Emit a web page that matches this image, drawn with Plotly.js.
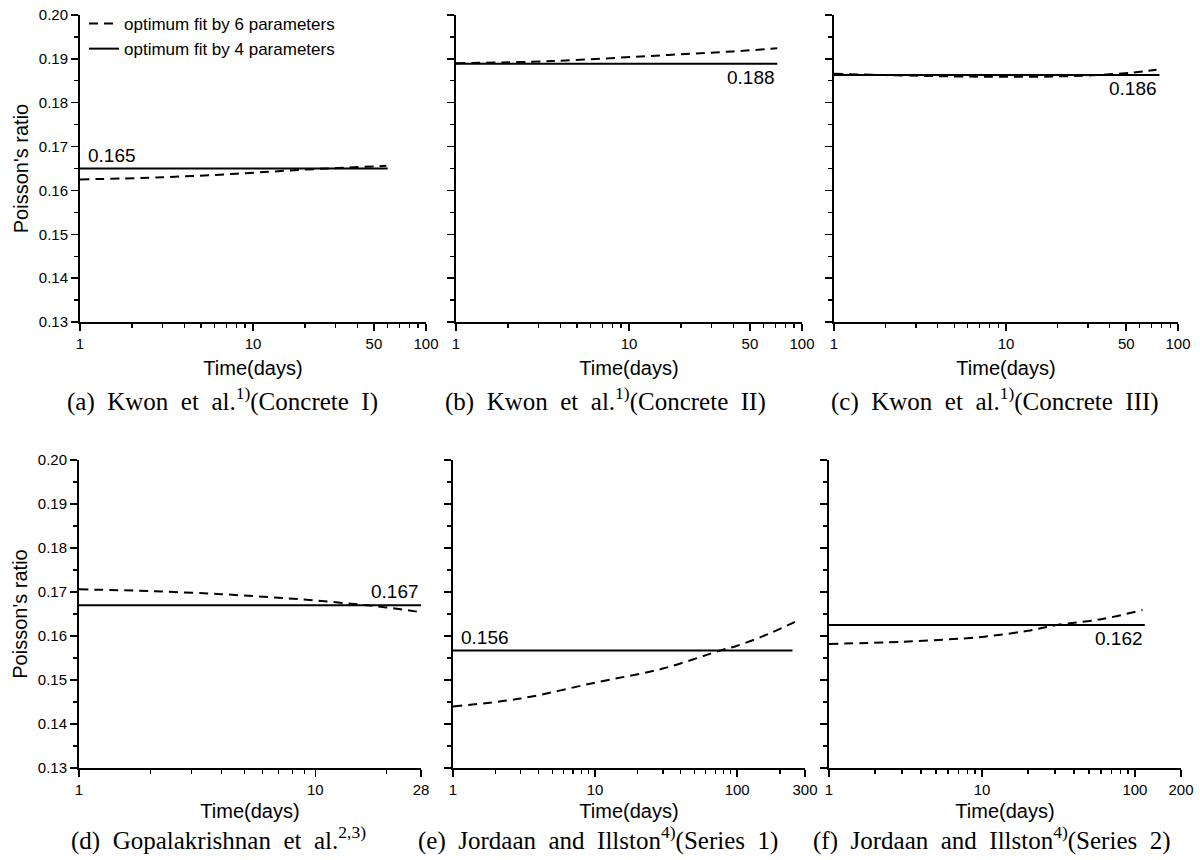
<!DOCTYPE html>
<html><head><meta charset="utf-8">
<script src="https://cdn.plot.ly/plotly-3.0.1.min.js"></script>
<style>html,body{margin:0;padding:0;background:#fff}#chart{width:1200px;height:860px}</style>
</head><body><div id="chart"></div>
<script>
// ---- data ----
const panelIds = ['a','b','c','d','e','f'];
const xMax = [100, 100, 100, 28, 300, 200];
const xTickVals = [[1,10,50,100],[1,10,50,100],[1,10,50,100],[1,10,28],[1,10,100,300],[1,10,100,200]];
const fit4Value = [0.1650, 0.1889, 0.1863, 0.1670, 0.1567, 0.1625];
const fit4Start = [1, 1, 1, 1, 1, 1];
const fit4End = [60, 72, 78, 28, 245, 116];
const fit6X_a = [1, 3, 8, 19, 35, 59];
const fit6Y_a = [0.1625, 0.1630, 0.1638, 0.1647, 0.1652, 0.1656];
const fit6X_b = [1, 3.6, 17, 40, 72];
const fit6Y_b = [0.1890, 0.1895, 0.1909, 0.1917, 0.1924];
const fit6X_c = [1, 2, 5, 10, 20, 34, 55, 75];
const fit6Y_c = [0.1866, 0.1863, 0.1860, 0.1859, 0.1860, 0.1863, 0.1869, 0.1875];
const fit6X_d = [1, 2, 4, 7, 10, 15, 20, 28];
const fit6Y_d = [0.1706, 0.1702, 0.1695, 0.1687, 0.1681, 0.1672, 0.1665, 0.1654];
const fit6X_e = [1, 3, 10, 30, 76, 100, 170, 270];
const fit6Y_e = [0.1440, 0.1458, 0.1494, 0.1526, 0.1567, 0.1578, 0.1606, 0.1636];
const fit6X_f = [1, 3, 10, 20, 31, 60, 112];
const fit6Y_f = [0.1582, 0.1587, 0.1598, 0.1612, 0.1625, 0.1638, 0.1659];
const fit6X = [fit6X_a, fit6X_b, fit6X_c, fit6X_d, fit6X_e, fit6X_f];
const fit6Y = [fit6Y_a, fit6Y_b, fit6Y_c, fit6Y_d, fit6Y_e, fit6Y_f];
const valueLabels = ['0.165', '0.188', '0.186', '0.167', '0.156', '0.162'];
const labelSide = ['leftAbove', 'rightBelow', 'rightBelow', 'rightAbove', 'leftAbove', 'rightBelow'];
const yTickVals = [0.13, 0.14, 0.15, 0.16, 0.17, 0.18, 0.19, 0.20];
const legendNames = ['optimum fit by 6 parameters', 'optimum fit by 4 parameters'];
const captions = [
  '(a)\u00a0 Kwon\u00a0 et\u00a0 al.<sup>1)</sup>(Concrete\u00a0 I)',
  '(b)\u00a0 Kwon\u00a0 et\u00a0 al.<sup>1)</sup>(Concrete\u00a0 II)',
  '(c)\u00a0 Kwon\u00a0 et\u00a0 al.<sup>1)</sup>(Concrete\u00a0 III)',
  '(d)\u00a0 Gopalakrishnan\u00a0 et\u00a0 al.<sup>2,3)</sup>',
  '(e)\u00a0 Jordaan\u00a0 and\u00a0 Illston<sup>4)</sup>(Series\u00a0 1)',
  '(f)\u00a0 Jordaan\u00a0 and\u00a0 Illston<sup>4)</sup>(Series\u00a0 2)'
];
const xTitle = 'Time(days)';
const yTitle = "Poisson's ratio";

// ---- layout geometry (pixels) ----
const W = 1200, H = 860;
const xPix = [[80,426],[456,802],[834,1178],[79,421],[453,805],[829,1181]];
const yPix = [[15,322],[15,322],[15,322],[460,768],[460,768],[460,768]];
const captionCenter = [[222,400],[605,400],[995,400],[218,838],[598,838],[992,838]];

function minorLogTicks(max, majors) {
  const out = [];
  for (let d = 1; d <= max; d *= 10) {
    for (let m = 2; m <= 9; m++) {
      const v = m * d;
      if (v < max && majors.indexOf(v) < 0) out.push(v);
    }
  }
  return out;
}

const traces = [];
const layout = {
  width: W, height: H,
  margin: {l: 0, r: 0, t: 0, b: 0},
  paper_bgcolor: '#fff', plot_bgcolor: '#fff',
  font: {family: 'Liberation Sans, Arial, sans-serif', color: '#000', size: 15},
  showlegend: true,
  legend: {x: 84 / W, y: 1 - 6 / H, xanchor: 'left', yanchor: 'top',
           bgcolor: 'rgba(0,0,0,0)', font: {size: 17}, tracegroupgap: 0},
  annotations: []
};

panelIds.forEach((p, i) => {
  const xa = i === 0 ? 'x' : 'x' + (i + 1);
  const ya = i === 0 ? 'y' : 'y' + (i + 1);
  const xKey = i === 0 ? 'xaxis' : 'xaxis' + (i + 1);
  const yKey = i === 0 ? 'yaxis' : 'yaxis' + (i + 1);
  traces.push({
    x: fit6X[i], y: fit6Y[i], xaxis: xa, yaxis: ya, mode: 'lines', type: 'scatter',
    line: {color: '#000', width: 2, dash: '9px,6px', shape: 'spline'},
    name: legendNames[0], showlegend: i === 0, hoverinfo: 'skip'
  });
  traces.push({
    x: [fit4Start[i], fit4End[i]], y: [fit4Value[i], fit4Value[i]], xaxis: xa, yaxis: ya,
    mode: 'lines', type: 'scatter', line: {color: '#000', width: 2},
    name: legendNames[1], showlegend: i === 0, hoverinfo: 'skip'
  });
  const labelsOn = (i === 0 || i === 3);
  layout[xKey] = {
    type: 'log', range: [0, Math.log10(xMax[i])],
    domain: [xPix[i][0] / W, xPix[i][1] / W], anchor: ya,
    tickmode: 'array', tickvals: xTickVals[i], ticktext: xTickVals[i].map(String),
    ticks: 'outside', ticklen: 7, tickwidth: 1.5, tickcolor: '#000',
    minor: {tickmode: 'array', tickvals: minorLogTicks(xMax[i], xTickVals[i]), ticks: 'outside', ticklen: 4, tickwidth: 1.2, tickcolor: '#000'},
    showline: true, linecolor: '#000', linewidth: 2, showgrid: false, zeroline: false,
    tickfont: {size: 15},
    title: {text: xTitle, font: {size: 20}, standoff: i < 3 ? 10 : 7},
    automargin: false, fixedrange: true
  };
  layout[yKey] = {
    range: [0.13, 0.20], domain: [1 - yPix[i][1] / H, 1 - yPix[i][0] / H], anchor: xa,
    tickmode: 'array', tickvals: yTickVals, tickformat: '.2f', showticklabels: labelsOn,
    ticks: 'outside', ticklen: 7, tickwidth: 1.5, tickcolor: '#000',
    minor: {dtick: 0.005, ticks: 'outside', ticklen: 4, tickwidth: 1.2, tickcolor: '#000'},
    showline: true, linecolor: '#000', linewidth: 2, showgrid: false, zeroline: false,
    tickfont: {size: 15},
    title: labelsOn ? {text: yTitle, font: {size: 20}, standoff: 5} : {text: ''},
    automargin: false, fixedrange: true
  };
  // value label
  const side = labelSide[i];
  const left = side.indexOf('left') === 0;
  const above = side.indexOf('Above') > 0;
  layout.annotations.push({
    xref: xa, yref: ya,
    x: Math.log10(left ? fit4Start[i] : fit4End[i]), y: fit4Value[i],
    text: valueLabels[i], showarrow: false,
    xanchor: left ? 'left' : 'right', yanchor: above ? 'bottom' : 'top',
    xshift: left ? 6 : 0, yshift: above ? 1 : -1,
    font: {size: 19, color: '#000'}
  });
  // caption
  layout.annotations.push({
    xref: 'paper', yref: 'paper', x: captionCenter[i][0] / W, y: 1 - captionCenter[i][1] / H,
    xanchor: 'center', yanchor: 'middle', showarrow: false,
    text: captions[i], font: {family: 'Liberation Serif, Times New Roman, serif', size: 25, color: '#000'}
  });
});

Plotly.newPlot('chart', traces, layout, {staticPlot: true, displayModeBar: false});
</script>
</body></html>
